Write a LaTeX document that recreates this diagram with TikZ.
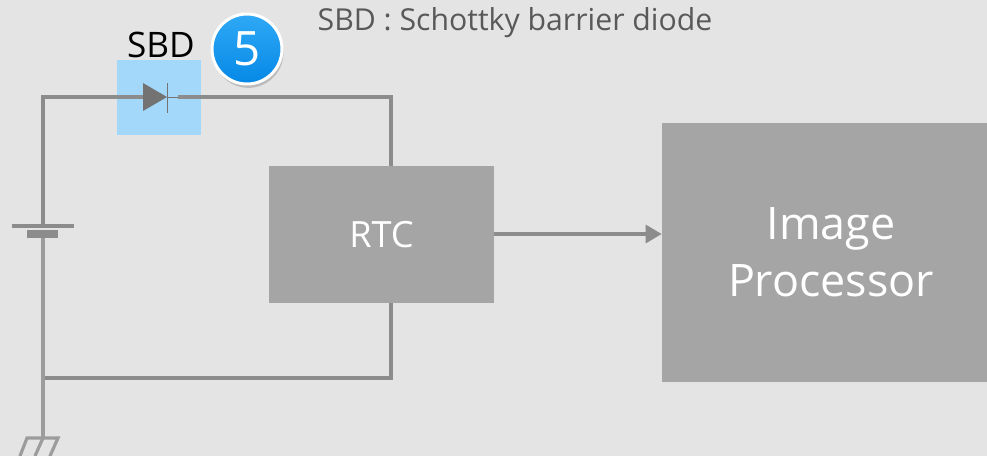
\documentclass[tikz,border=0pt]{standalone}
\usepackage{fontspec}
\setmainfont{Open Sans}
\usetikzlibrary{arrows.meta,shadows}
\definecolor{bggray}{HTML}{E4E4E4}
\definecolor{boxgray}{HTML}{A5A5A5}
\definecolor{wiregray}{HTML}{8C8C8C}
\definecolor{lightwire}{HTML}{9C9C9C}
\definecolor{sbdblue}{HTML}{A3D8FB}
\definecolor{diodegray}{HTML}{737373}
\definecolor{captext}{HTML}{595959}
\definecolor{fivetop}{HTML}{2FA9F6}
\definecolor{fivebot}{HTML}{0588E6}
\tikzset{
  block/.style={draw=none,fill=boxgray,text=white,align=center,inner sep=0pt},
  wire/.style={draw=wiregray,line width=1.8pt},
  gndwire/.style={draw=lightwire,line width=1.8pt},
  thinwire/.style={draw=diodegray,line width=0.45pt}
}
\begin{document}
\begin{tikzpicture}[x=0.02cm,y=-0.02cm]

  \fill[bggray] (0,0) rectangle (987,456);
  \useasboundingbox (0,0) rectangle (987,456);

  \node (sbdbox) at (159,97.5) [fill=sbdblue,minimum width=84*0.02cm,minimum height=75*0.02cm,inner sep=0pt] {};
  \node (RTC) at (381.5,234.5) [block,minimum width=225*0.02cm,minimum height=137*0.02cm,font=\fontsize{20.6}{24}\selectfont] {RTC};
  \node (IP) at (824.5,252.5) [block,minimum width=325*0.02cm,minimum height=259*0.02cm,font=\fontsize{25.5}{32.3}\selectfont] {\hspace*{7.4pt}Image\\\hspace*{7.4pt}Processor};

  \node (sbdlabel) at (161,45) [text=black,inner sep=0pt,font=\fontsize{20}{24}\selectfont] {SBD};
  \node (caption) at (515,23) [text=captext,inner sep=0pt,font=\fontsize{17.2}{21}\selectfont] {SBD : Schottky barrier diode};
  \node (five) at (247,49) [circle,draw=white,line width=1.7pt,top color=fivetop,bottom color=fivebot,minimum size=70*0.02cm,inner sep=0pt,text=white,drop shadow={shadow xshift=0.8pt,shadow yshift=-2.2pt,opacity=0.4},font=\fontsize{27}{31}\selectfont] {5};

  \coordinate (Dl) at (143,97);
  \coordinate (Dk) at (167,97);
  \coordinate (Dr) at (178,97);
  \coordinate (TL) at (43,97);
  \coordinate (TR) at (391,97);
  \coordinate (BL) at (43,378);
  \coordinate (BR) at (391,378);
  \coordinate (plate) at (43,226);
  \coordinate (cellb) at (43,238);
  \coordinate (gnd) at (43,438);

  \draw[wire] (plate) to (TL) to (Dl);
  \draw[wire] (Dr) to (TR) to (TR |- RTC.north);
  \draw[wire] (TR |- RTC.south) to (BR) to (BL);
  \draw[gndwire] (cellb) to (gnd);
  \draw[thinwire] (Dk) to (Dr);

  % diode
  \fill[diodegray] (143,83) -- (Dk) -- (143,111) -- cycle;
  \draw[thinwire] (167,83) to (167,113);

  % battery
  \draw[wire] (12,226) to (74,226);
  \fill[wiregray] (27,230) rectangle (58,238);

  % ground
  \draw[gndwire,line cap=round] (20,456) to (27,438) to (58,438) to (50,456);
  \draw[gndwire] (gnd) to (35,456);

  \draw[wire,-{Triangle[length=16*0.02cm,width=18*0.02cm]}] (RTC.east |- 0,234) to (IP.west |- 0,234);
\end{tikzpicture}
\end{document}
